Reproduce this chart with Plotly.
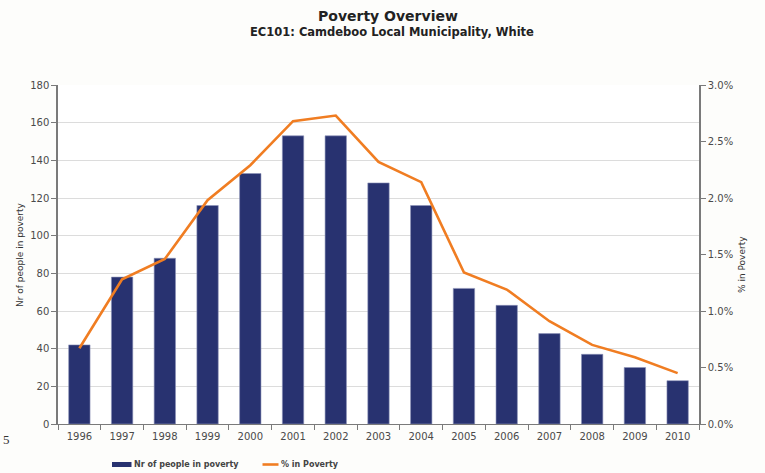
import plotly.graph_objects as go

years = [str(y) for y in range(1996, 2011)]
people_in_poverty = [42, 78, 88, 116, 133, 153, 153, 128, 116, 72, 63, 48, 37, 30, 23]
pct_in_poverty = [0.67, 1.28, 1.46, 1.98, 2.29, 2.68, 2.73, 2.32, 2.14, 1.34, 1.19, 0.91, 0.70, 0.59, 0.45]

left_ticks = list(range(0, 181, 20))
right_ticks = [0.0, 0.5, 1.0, 1.5, 2.0, 2.5, 3.0]
right_tick_text = [f"{v:.1f}%" for v in right_ticks]

NAVY = "#283270"
ORANGE = "#F07D22"
AXIS = "#7a7a7a"
TXT = "#4a4a4a"
FONT = "DejaVu Sans, Verdana, sans-serif"

W, H = 765, 473
ML, MR, MT, MB = 58, 66, 85, 49
PW, PH = W - ML - MR, H - MT - MB


def px(x):
    """Figure pixel x -> paper coordinate."""
    return (x - ML) / PW


def py(y):
    """Figure pixel y (from top) -> paper coordinate."""
    return 1 - (y - MT) / PH


fig = go.Figure()
fig.add_trace(go.Bar(
    x=years, y=people_in_poverty, name="Nr of people in poverty",
    marker=dict(color=NAVY, line=dict(color="#8d93b8", width=0.6)),
    yaxis="y", showlegend=False,
))
fig.add_trace(go.Scatter(
    x=years, y=pct_in_poverty, name="% in Poverty", mode="lines",
    line=dict(color=ORANGE, width=2.6), yaxis="y2", showlegend=False,
))


def label(text, x, y, size, color="#333333", angle=0, family=FONT, anchor="center"):
    return dict(text=text, x=px(x), y=py(y), xref="paper", yref="paper",
                showarrow=False, textangle=angle, xanchor=anchor, yanchor="middle",
                font=dict(size=size, color=color, family=family))


annotations = [
    label("<b>Poverty Overview</b>", 388, 16, 14, "#222222"),
    label("<b>EC101: Camdeboo Local Municipality, White</b>", 392, 32, 11.5, "#222222"),
    label("Nr of people in poverty", 20, 255, 9, angle=-90),
    label("% in Poverty", 742, 265, 9, angle=-90),
    label("5", 6, 439, 13, "#333333", family="Liberation Serif, serif"),
    # legend entries
    label("<b>Nr of people in poverty</b>", 132, 464.5, 8, "#444444", anchor="left"),
    label("<b>% in Poverty</b>", 279, 464.5, 8, "#444444", anchor="left"),
]

shapes = [
    dict(type="rect", xref="paper", yref="paper",
         x0=px(112), x1=px(131.5), y0=py(462), y1=py(467),
         fillcolor=NAVY, line=dict(width=0)),
    dict(type="line", xref="paper", yref="paper",
         x0=px(262.5), x1=px(278.5), y0=py(464.5), y1=py(464.5),
         line=dict(color=ORANGE, width=2.6)),
]

fig.update_layout(
    width=W, height=H,
    margin=dict(l=ML, r=MR, t=MT, b=MB, autoexpand=False),
    paper_bgcolor="#fdfdfb", plot_bgcolor="#ffffff",
    font=dict(family=FONT, size=10, color=TXT),
    bargap=0.5,
    showlegend=False,
    xaxis=dict(type="category", range=[-0.5, 14.5], showline=True, linecolor=AXIS,
               linewidth=1, ticks="outside", tickson="boundaries", ticklen=5,
               tickcolor=AXIS, showgrid=False, ticklabelstandoff=3,
               tickfont=dict(size=10, color=TXT)),
    yaxis=dict(range=[0, 180], tickvals=left_ticks, showline=True, linecolor=AXIS,
               linewidth=1.5, ticks="outside", ticklen=5, tickcolor=AXIS,
               gridcolor="#dcdcdc", gridwidth=1, zeroline=False,
               tickfont=dict(size=10, color=TXT)),
    yaxis2=dict(range=[0, 3.0], tickvals=right_ticks, ticktext=right_tick_text,
                overlaying="y", side="right", showline=True, linecolor=AXIS,
                linewidth=1.5, ticks="outside", ticklen=5, tickcolor=AXIS,
                showgrid=False, zeroline=False, tickfont=dict(size=10, color=TXT)),
    annotations=annotations,
    shapes=shapes,
)

fig.write_html("out.html")
